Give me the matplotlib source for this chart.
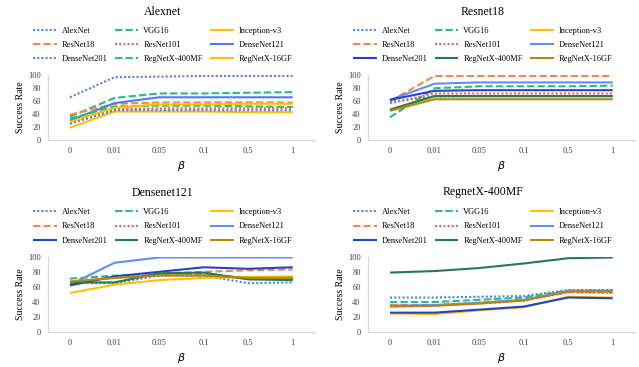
import matplotlib
matplotlib.use("Agg")
import matplotlib.pyplot as plt

plt.rcParams['font.family'] = ['Liberation Serif', 'DejaVu Serif']

betas = ["0", "0.01", "0.05", "0.1", "0.5", "1"]
models = ["AlexNet", "VGG16", "Inception-v3", "ResNet18", "ResNet101",
          "DenseNet121", "DenseNet201", "RegNetX-400MF", "RegNetX-16GF"]

# Panel: Alexnet
alex_AlexNet = [66, 97, 98, 99, 99, 99]
alex_VGG16 = [36, 65, 72, 72, 73, 74]
alex_Inception = [19, 44, 44, 44, 43, 43]
alex_ResNet18 = [39, 56, 58, 58, 58, 58]
alex_ResNet101 = [28, 48, 49, 49, 49, 49]
alex_DenseNet121 = [30, 57, 66, 66, 66, 66]
alex_DenseNet201 = [25, 46, 46, 46, 46, 46]
alex_RegNet400 = [33, 52, 53, 53, 52, 51]
alex_RegNet16 = [28, 50, 55, 55, 56, 56]

# Panel: Resnet18
res_AlexNet = [59, 67, 68, 68, 68, 68]
res_VGG16 = [35, 80, 83, 83, 83, 84]
res_Inception = [46, 67, 67, 67, 67, 67]
res_ResNet18 = [60, 99, 99, 99, 99, 99]
res_ResNet101 = [57, 72, 72, 72, 72, 72]
res_DenseNet121 = [62, 87, 89, 89, 89, 89]
res_DenseNet201 = [62, 76, 77, 77, 77, 77]
res_RegNet400 = [47, 68, 68, 68, 68, 68]
res_RegNet16 = [45, 63, 63, 63, 63, 63]

# Panel: Densenet121
dn_AlexNet = [65, 65, 75, 75, 65, 66]
dn_VGG16 = [71, 75, 77, 77, 72, 70]
dn_Inception = [52, 63, 69, 72, 73, 74]
dn_ResNet18 = [67, 72, 78, 80, 82, 83]
dn_ResNet101 = [66, 72, 76, 76, 71, 71]
dn_DenseNet121 = [63, 92, 99, 99, 99, 99]
dn_DenseNet201 = [62, 74, 80, 86, 84, 86]
dn_RegNet400 = [66, 66, 78, 79, 70, 69]
dn_RegNet16 = [67, 72, 75, 75, 72, 72]

# Panel: RegnetX-400MF
rg_AlexNet = [46, 46, 47, 48, 56, 56]
rg_VGG16 = [40, 40, 43, 46, 55, 55]
rg_Inception = [25, 24, 29, 33, 47, 46]
rg_ResNet18 = [36, 36, 39, 43, 53, 53]
rg_ResNet101 = [35, 36, 38, 42, 53, 52]
rg_DenseNet121 = [35, 36, 39, 43, 55, 55]
rg_DenseNet201 = [26, 26, 30, 34, 46, 45]
rg_RegNet400 = [79, 81, 85, 91, 98, 99]
rg_RegNet16 = [34, 35, 38, 42, 54, 54]

titles = ["Alexnet", "Resnet18", "Densenet121", "RegnetX-400MF"]
panels = [
    [alex_AlexNet, alex_VGG16, alex_Inception, alex_ResNet18, alex_ResNet101,
     alex_DenseNet121, alex_DenseNet201, alex_RegNet400, alex_RegNet16],
    [res_AlexNet, res_VGG16, res_Inception, res_ResNet18, res_ResNet101,
     res_DenseNet121, res_DenseNet201, res_RegNet400, res_RegNet16],
    [dn_AlexNet, dn_VGG16, dn_Inception, dn_ResNet18, dn_ResNet101,
     dn_DenseNet121, dn_DenseNet201, dn_RegNet400, dn_RegNet16],
    [rg_AlexNet, rg_VGG16, rg_Inception, rg_ResNet18, rg_ResNet101,
     rg_DenseNet121, rg_DenseNet201, rg_RegNet400, rg_RegNet16],
]

DOT = (0, (1, 1))
DASH = (0, (3.5, 1.5))
styles_default = [
    ('#4F81F0', DOT), ('#20C080', DASH), ('#FFC000', '-'),
    ('#F4874B', DASH), ('#FF5B5B', DOT), ('#5B8FF9', '-'),
    ('#1F44C8', '-'), ('#1E7D52', '-'), ('#B8860B', '-'),
]
styles_alex = [
    ('#4F81F0', DOT), ('#20C080', DASH), ('#FFC000', '-'),
    ('#F4874B', DASH), ('#FF5B5B', DOT), ('#4A7DF0', '-'),
    ('#4F81F0', DOT), ('#20C080', DASH), ('#FFC000', '-'),
]

W, H = 639, 367
fig = plt.figure(figsize=(W / 100, H / 100), dpi=100)

# (left, top(100), right, bottom(0)) in pixels
boxes = [
    (47.7, 75.3, 315, 140),
    (367.7, 75.3, 635, 140),
    (47.7, 256.7, 315, 332.3),
    (367.7, 256.7, 635, 332.3),
]
title_y = [12, 12, 192.5, 192.5]
legend_y = [45, 45, 226.5, 226.5]

# row-major legend order for a 3-column legend (matplotlib fills column-wise)
order = [0, 3, 6, 1, 4, 7, 2, 5, 8]

x = list(range(len(betas)))
for i, (l, t, r, b) in enumerate(boxes):
    ax = fig.add_axes([l / W, 1 - b / H, (r - l) / W, (b - t) / H])
    sty = styles_alex if i == 0 else styles_default
    lines = []
    for name, vals, (c, ls) in zip(models, panels[i], sty):
        ln, = ax.plot(x, vals, color=c, linestyle=ls, lw=1.5, label=name,
                      solid_capstyle='butt', dash_capstyle='butt')
        lines.append(ln)
    ax.set_xlim(-0.5, len(betas) - 0.5)
    ax.set_ylim(0, 100)
    ax.set_yticks([0, 20, 40, 60, 80, 100])
    ax.set_xticks(x)
    ax.set_xticklabels(betas)
    ax.tick_params(length=0, labelsize=6, colors='#404040', pad=5)
    ax.tick_params(axis='y', pad=5)
    for s in ['top', 'right']:
        ax.spines[s].set_visible(False)
    for s in ['left', 'bottom']:
        ax.spines[s].set_color('#D9D9D9')
        ax.spines[s].set_linewidth(0.9)
    ax.set_ylabel("Success Rate", fontsize=7, labelpad=2)
    ax.set_xlabel(r"$\beta$", fontsize=8, labelpad=3)
    cx = l - 48 + 163
    fig.text(cx / W, 1 - title_y[i] / H, titles[i],
             fontsize=8.5, ha='center', va='center')
    ax.legend([lines[k] for k in order], [models[k] for k in order],
              loc='center', bbox_to_anchor=(cx / W, 1 - legend_y[i] / H),
              bbox_transform=fig.transFigure, ncol=3, frameon=False,
              fontsize=6, handlelength=2.8, handletextpad=0.6,
              columnspacing=0.9, labelspacing=0.75, borderpad=0)

fig.savefig("out.png", dpi=100)
